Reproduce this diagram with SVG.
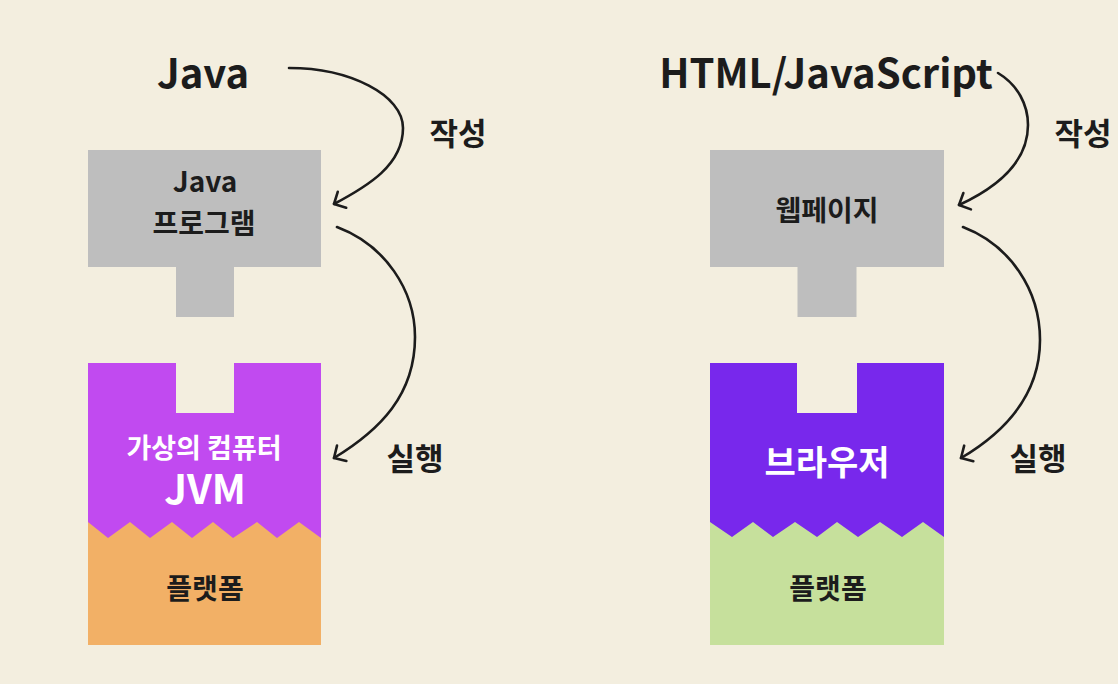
<svg xmlns="http://www.w3.org/2000/svg" width="1118" height="684" viewBox="0 0 1118 684">
<defs>
<style>
.t{font-family:"Noto Sans CJK KR","Noto Sans",sans-serif;font-weight:700;fill:#1c1c1c;text-anchor:middle}
.w{fill:#ffffff}
.gray{fill:#bebebe}
.conn{fill:none;stroke:#1c1c1c;stroke-width:2.6;stroke-linecap:round}
</style>
<marker id="arr" markerUnits="userSpaceOnUse" markerWidth="24" markerHeight="24" refX="0" refY="0" viewBox="-12 -12 24 24" orient="auto" overflow="visible">
<path d="M-9,-9 L0,0 L-9,9" fill="none" stroke="#1c1c1c" stroke-width="2.6" stroke-linecap="round" stroke-linejoin="round"/>
</marker>
</defs>
<rect width="1118" height="684" fill="#f3eedf"/>

<g id="java-title"><text class="t" x="203" y="88" font-size="40">Java</text></g>
<g id="html-title"><text class="t" x="826" y="88" font-size="40">HTML/JavaScript</text></g>

<g id="java-program">
<rect class="gray" x="88" y="150" width="233" height="117"/>
<rect class="gray" x="176" y="266" width="58" height="51"/>
<text class="t" x="205" y="192" font-size="28">Java</text>
<text class="t" x="204" y="234" font-size="28">프로그램</text>
</g>

<g id="webpage">
<rect class="gray" x="710" y="150" width="234" height="117"/>
<rect class="gray" x="797.5" y="266" width="59" height="51"/>
<text class="t" x="827" y="221" font-size="28">웹페이지</text>
</g>

<g id="jvm-stack">
<rect x="88" y="500" width="233" height="145" fill="#f2b066"/>
<path d="M88,363 H176 V413 H234 V363 H321 V538 L299,522 L277,538 L257,522 L233,538 L213,522 L192,538 L172,522 L150,538 L130,522 L108,538 L88,522 Z" fill="#c14af0"/>
<text class="t w" x="204" y="458" font-size="27">가상의 컴퓨터<tspan x="205" y="504" font-size="40">JVM</tspan></text>
<text class="t" x="205" y="599" font-size="28">플랫폼</text>
</g>

<g id="browser-stack">
<rect x="710" y="500" width="234" height="145" fill="#c6e09c"/>
<path d="M710,363 H797 V413 H857 V363 H944 V537 L923,522 L902,537 L880,522 L858,537 L837,522 L817,537 L795,522 L773,537 L753,522 L732,537 L710,522 Z" fill="#7828ec"/>
<text class="t w" x="827" y="475" font-size="34">브라우저</text>
<text class="t" x="828" y="599" font-size="28">플랫폼</text>
</g>

<g id="connectors">
<path class="conn" marker-end="url(#arr)" d="M289,68 C350,68 403,95 403,128 C403,165 368,186 334,204"/>
<path class="conn" marker-end="url(#arr)" d="M337,227 C385,245 415,290 415,337 C415,395 380,430 334,458"/>
<path class="conn" marker-end="url(#arr)" d="M998,73 C1018,85 1028,105 1028,125 C1028,160 1000,186 959,205"/>
<path class="conn" marker-end="url(#arr)" d="M963,227 C1010,245 1040,290 1040,340 C1040,395 1005,432 961,458"/>
</g>

<g id="labels">
<text class="t" x="458" y="145" font-size="31">작성</text>
<text class="t" x="1083" y="145" font-size="31">작성</text>
<text class="t" x="415" y="470" font-size="31">실행</text>
<text class="t" x="1038" y="470" font-size="31">실행</text>
</g>
</svg>
